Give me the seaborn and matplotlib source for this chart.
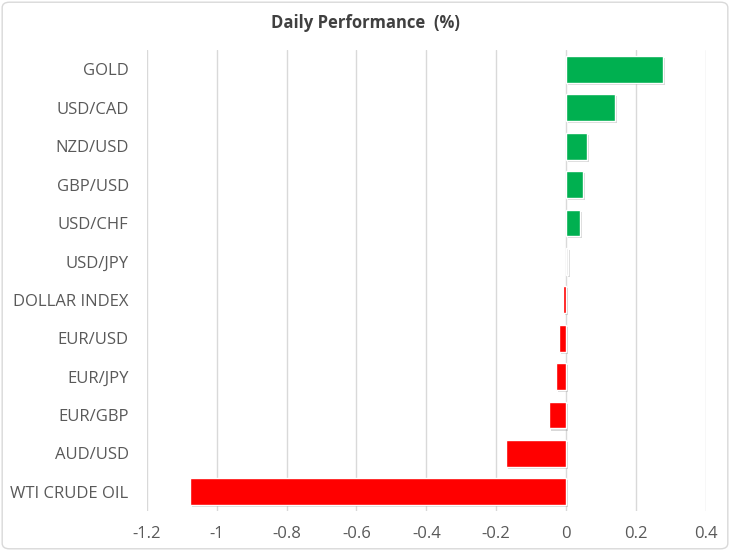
import numpy as np
import pandas as pd
import matplotlib.pyplot as plt
import matplotlib.patheffects as pe
from matplotlib.patches import FancyBboxPatch
import seaborn as sns

# data
assets = ['GOLD', 'USD/CAD', 'NZD/USD', 'GBP/USD', 'USD/CHF', 'USD/JPY',
          'DOLLAR INDEX', 'EUR/USD', 'EUR/JPY', 'EUR/GBP', 'AUD/USD', 'WTI CRUDE OIL']
change = [0.278, 0.139, 0.059, 0.047, 0.040, 0.004,
          -0.010, -0.021, -0.029, -0.049, -0.171, -1.076]
xticks = [-1.2, -1, -0.8, -0.6, -0.4, -0.2, 0, 0.2, 0.4]
xtick_labels = ['-1.2', '-1', '-0.8', '-0.6', '-0.4', '-0.2', '0', '0.2', '0.4']

df = pd.DataFrame({'asset': assets, 'change': change})

colors = []
for v in change:
    if v > 0.01:
        colors.append('#00B050')
    elif v >= 0:
        colors.append('#E6E6E6')
    else:
        colors.append('#FF0000')

sns.set_style('white')
plt.rcParams['font.family'] = ['Open Sans', 'DejaVu Sans']

fig = plt.figure(figsize=(7.3, 5.51), dpi=100)
ax = fig.add_axes([0.201, 0.0726, 0.766, 0.8364])

sns.barplot(data=df, x='change', y='asset', hue='asset', palette=colors,
            legend=False, width=0.7, saturation=1, ax=ax)

for bar in ax.patches:
    bar.set_path_effects([pe.SimplePatchShadow(offset=(1.5, -1.5), shadow_rgbFace='#808080', alpha=0.3),
                          pe.Normal()])

ax.set_xlim(-1.2, 0.4)
ax.set_xticks(xticks)
ax.set_xticklabels(xtick_labels)
ax.grid(axis='x', color='#D9D9D9', linewidth=1)
ax.set_axisbelow(True)
for s in ax.spines.values():
    s.set_visible(False)
ax.set_xlabel('')
ax.set_ylabel('')
ax.tick_params(axis='both', length=0, labelsize=12, colors='#595959')
ax.tick_params(axis='x', pad=11)
ax.tick_params(axis='y', pad=13)

fig.text(0.5, 0.958, 'Daily Performance  (%)', ha='center', va='center',
         fontsize=12, fontweight='bold', color='#404040')

border = FancyBboxPatch((0.003, 0.004), 0.994, 0.992, boxstyle='round,pad=0,rounding_size=0.01',
                        transform=fig.transFigure, fill=False, edgecolor='#D9D9D9', linewidth=1)
fig.patches.append(border)

fig.savefig('out.png', dpi=100)
